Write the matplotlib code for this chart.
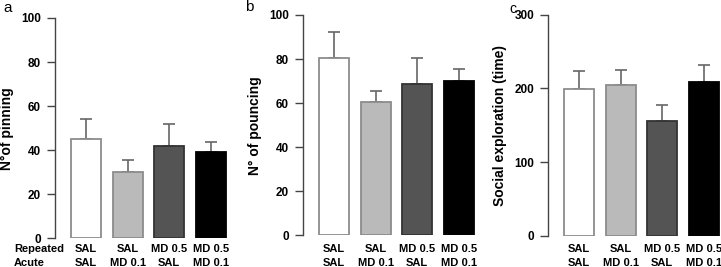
import matplotlib
matplotlib.use("Agg")
import matplotlib.pyplot as plt
from matplotlib.transforms import blended_transform_factory

plt.rcParams['font.family'] = ['Liberation Sans', 'DejaVu Sans']

groups_rep = ["SAL", "SAL", "MD 0.5", "MD 0.5"]
groups_acu = ["SAL", "MD 0.1", "SAL", "MD 0.1"]

pinning = [45.3, 30.0, 42.0, 39.1]
pinning_err = [8.9, 5.4, 10.1, 4.7]

pouncing = [80.5, 60.3, 68.9, 70.1]
pouncing_err = [11.9, 5.3, 11.6, 5.4]

social = [198.6, 204.4, 155.7, 208.0]
social_err = [24.4, 21.1, 21.3, 24.0]

fills = ['white', '#bababa', '#545454', 'black']
edges = ['#8c8c8c', '#8c8c8c', '#333333', 'black']

W, H = 721, 267
fig = plt.figure(figsize=(W / 100, H / 100), dpi=100)
lab_font = ['Liberation Sans Narrow', 'Liberation Sans']

def panel(left, zero_y, top_y, means, errs, ymax, step, ylabel, letter, letter_xy, letter_size):
    ax = fig.add_axes([left / W, (H - zero_y) / H, 174.3 / W, (zero_y - top_y) / H])
    x = list(range(len(means)))
    ax.errorbar(x, means, yerr=[[0] * len(errs), errs], fmt='none',
                ecolor='#666666', elinewidth=1.2, capsize=4.5, capthick=1.2, zorder=1)
    ax.bar(x, means, width=0.72, color=fills, edgecolor=edges, linewidth=1.3, zorder=2)
    ax.set_xlim(-0.75, 3.45)
    ax.set_ylim(0, ymax)
    ax.set_yticks(range(0, ymax + 1, step))
    for s in ['top', 'right', 'bottom']:
        ax.spines[s].set_visible(False)
    ax.spines['left'].set_color('#444444')
    ax.spines['left'].set_linewidth(1.0)
    ax.tick_params(axis='y', direction='out', length=6, width=1.0, color='#444444',
                   labelsize=8.5, pad=4)
    for t in ax.get_yticklabels():
        t.set_fontweight('bold')
    ax.set_xticks([])
    ax.set_ylabel(ylabel, fontsize=10, fontweight='bold', labelpad=5)
    tr = blended_transform_factory(ax.transData, fig.transFigure)
    for i in x:
        ax.text(i, 1 - 249.5 / H, groups_rep[i], transform=tr, ha='center', va='center',
                fontsize=8, fontweight='bold', family=lab_font)
        ax.text(i, 1 - 262.5 / H, groups_acu[i], transform=tr, ha='center', va='center',
                fontsize=8, fontweight='bold', family=lab_font)
    fig.text(letter_xy[0] / W, 1 - letter_xy[1] / H, letter, fontsize=letter_size,
             ha='left', va='center')
    return ax

panel(55, 238.3, 18, pinning, pinning_err, 100, 20, "N°of pinning", "a", (3, 8), 11)
panel(303, 235.3, 15, pouncing, pouncing_err, 100, 20, "N° of pouncing", "b", (245, 7), 11)
panel(548, 235.7, 14.7, social, social_err, 300, 100, "Social exploration (time)", "c", (509, 9), 10)

fig.text(14 / W, 1 - 249.5 / H, "Repeated", fontsize=8, fontweight='bold', va='center',
         family=lab_font)
fig.text(14 / W, 1 - 262.5 / H, "Acute", fontsize=8, fontweight='bold', va='center',
         family=lab_font)

fig.savefig("out.png", dpi=100)
